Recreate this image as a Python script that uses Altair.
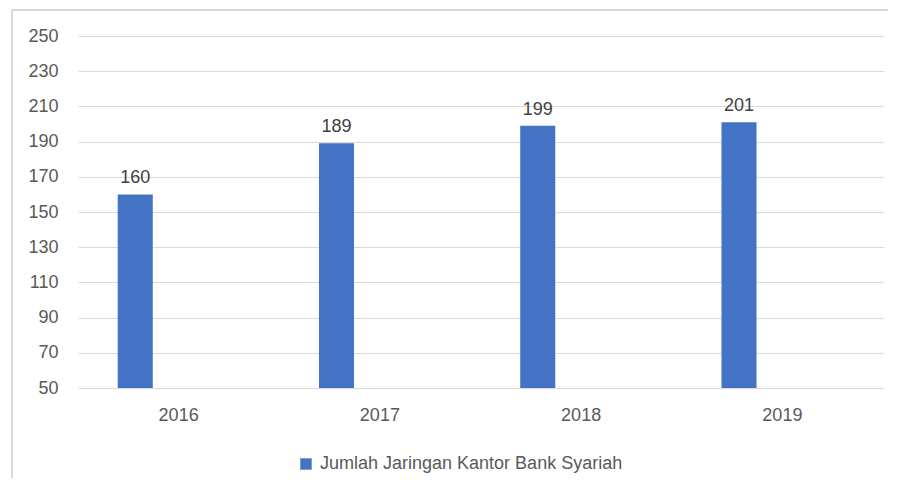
import altair as alt
import pandas as pd

years = ["2016", "2017", "2018", "2019"]
values = [160, 189, 199, 201]
series_name = "Jumlah Jaringan Kantor Bank Syariah"
y_ticks = [50, 70, 90, 110, 130, 150, 170, 190, 210, 230, 250]

df = pd.DataFrame({"year": years, "value": values, "series": [series_name] * len(years)})

FONT = "Liberation Sans"
GRID = "#d9d9d9"

x_enc = alt.X("year:N", title=None, sort=years,
              scale=alt.Scale(paddingInner=0, paddingOuter=0),
              axis=alt.Axis(labelAngle=0, domain=False, ticks=False, grid=False,
                            labelPadding=18, labelFontSize=18, labelFont=FONT,
                            labelColor="#595959"))
xoff_enc = alt.XOffset("series:N",
                       scale=alt.Scale(domain=[series_name, "_"], paddingInner=0.596, paddingOuter=0.458))
y_enc = alt.Y("value:Q", title=None,
              scale=alt.Scale(domain=[50, 250], zero=False, nice=False),
              axis=alt.Axis(values=y_ticks, tickCount=len(y_ticks), domain=False, ticks=False,
                            gridColor=GRID, gridWidth=1, labelPadding=20, labelFontSize=18,
                            labelFont=FONT, labelColor="#595959", labelOverlap=False))

bars = alt.Chart(df).mark_bar(color="#4472C4").encode(
    x=x_enc,
    xOffset=xoff_enc,
    y=y_enc,
    y2=alt.datum(50),
    color=alt.Color("series:N", title=None,
                    scale=alt.Scale(domain=[series_name], range=["#4472C4"]),
                    legend=alt.Legend(orient="none", legendX=219, legendY=419,
                                      symbolType="square", symbolSize=130,
                                      symbolStrokeWidth=0, labelFontSize=18,
                                      labelFont=FONT, labelColor="#595959",
                                      labelOffset=5, padding=0, labelLimit=0)),
)

labels = alt.Chart(df).mark_text(font=FONT, fontSize=18, color="#404040",
                                 baseline="alphabetic", dy=-11).encode(
    x=alt.X("year:N", sort=years),
    xOffset=alt.XOffset("series:N"),
    y=alt.Y("value:Q"),
    text=alt.Text("value:Q"),
)

border_top = alt.Chart(df).mark_rule(color=GRID, strokeWidth=1.5).encode(
    x=alt.value(-66), x2=alt.value(830), y=alt.value(-26)
)
border_left = alt.Chart(df).mark_rule(color=GRID, strokeWidth=1.5).encode(
    x=alt.value(-66), y=alt.value(-26), y2=alt.value(450)
)

chart = alt.layer(bars, labels, border_top, border_left).properties(
    width=805, height=352,
    autosize=alt.AutoSizeParams(type="none"),
    padding={"left": 70, "top": 28, "right": 5, "bottom": 90},
    background="white",
).configure_view(strokeWidth=0)

chart.save("out.html", embed_options={"renderer": "svg", "actions": False})
